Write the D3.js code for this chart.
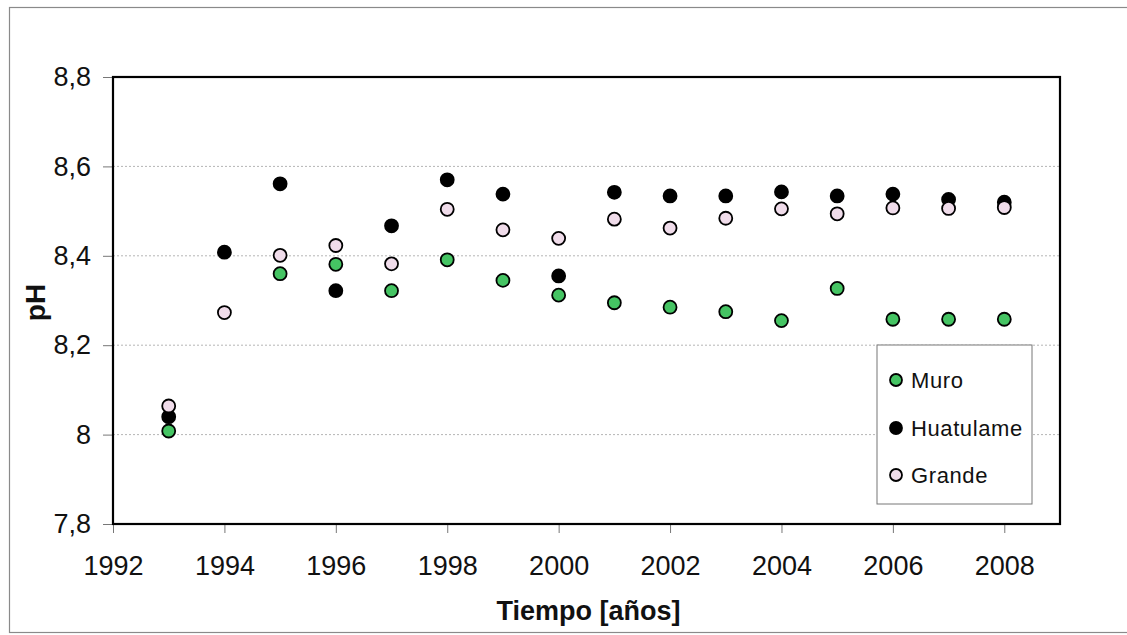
<!DOCTYPE html>
<html>
<head>
<meta charset="utf-8">
<script src="https://cdn.jsdelivr.net/npm/d3@7"></script>
<style>
  html, body { margin: 0; padding: 0; background: #fff; }
  svg { display: block; }
  text { font-family: "Liberation Sans", Arial, sans-serif; fill: #111; }
</style>
</head>
<body>
<svg id="chart" width="1127" height="635"></svg>
<script>
const years = [1993, 1994, 1995, 1996, 1997, 1998, 1999, 2000, 2001, 2002, 2003, 2004, 2005, 2006, 2007, 2008];
const muro = [8.008, null, 8.360, 8.381, 8.322, 8.391, 8.345, 8.312, 8.295, 8.285, 8.275, 8.255, 8.327, 8.258, 8.258, 8.258];
const huatulame = [8.040, 8.408, 8.561, 8.322, 8.467, 8.570, 8.538, 8.355, 8.542, 8.534, 8.534, 8.543, 8.534, 8.538, 8.526, 8.520];
const grande = [8.064, 8.273, 8.401, 8.423, 8.382, 8.504, 8.458, 8.439, 8.482, 8.462, 8.484, 8.505, 8.494, 8.507, 8.506, 8.508];
const xTicks = [1992, 1994, 1996, 1998, 2000, 2002, 2004, 2006, 2008];
const yTicks = [7.8, 8.0, 8.2, 8.4, 8.6, 8.8];
const seriesNames = ["Muro", "Huatulame", "Grande"];
const seriesColors = {"Muro": "#45c463", "Huatulame": "#000000", "Grande": "#f0dcea"};

const svg = d3.select("#chart");
const L = 113, R = 1060, T = 77, B = 524;
const x = d3.scaleLinear().domain([1992, 2009]).range([L, R]);
const y = d3.scaleLinear().domain([7.8, 8.8]).range([B, T]);
const fmt = d => d3.format(".1f")(d).replace(".", ",").replace(/,0$/, "");

// outer frame
svg.append("rect").attr("x", 9.5).attr("y", 7.5).attr("width", 1130).attr("height", 625)
  .attr("fill", "none").attr("stroke", "#8a8a8a").attr("stroke-width", 1.2);

// gridlines
svg.append("g").selectAll("line").data(yTicks.filter(t => t > 7.8 && t < 8.8)).join("line")
  .attr("x1", L).attr("x2", R).attr("y1", d => y(d)).attr("y2", d => y(d))
  .attr("stroke", "#b5b5b5").attr("stroke-width", 1).attr("stroke-dasharray", "2,2");

// y axis
const yAxis = svg.append("g").attr("transform", `translate(${L},0)`)
  .call(d3.axisLeft(y).tickValues(yTicks).tickFormat(fmt).tickSize(10).tickPadding(12));
yAxis.select(".domain").remove();
yAxis.selectAll(".tick line").attr("stroke", "#777");
yAxis.selectAll(".tick text").attr("font-size", 27).attr("fill", "#111")
  .attr("font-family", "Liberation Sans, Arial, sans-serif");

// x axis
const xAxis = svg.append("g").attr("transform", `translate(0,${B})`)
  .call(d3.axisBottom(x).tickValues(xTicks).tickFormat(d3.format("d")).tickSize(9).tickPadding(23));
xAxis.select(".domain").remove();
xAxis.selectAll(".tick line").attr("stroke", "#777");
xAxis.selectAll(".tick text").attr("font-size", 27).attr("fill", "#111")
  .attr("font-family", "Liberation Sans, Arial, sans-serif");

// plot border
svg.append("rect").attr("x", L).attr("y", T).attr("width", R - L).attr("height", B - T)
  .attr("fill", "none").attr("stroke", "#000").attr("stroke-width", 2.2);

// series
const data = {"Muro": muro, "Huatulame": huatulame, "Grande": grande};
["Huatulame", "Muro", "Grande"].forEach(name => {
  const pts = years.map((yr, i) => ({yr, v: data[name][i]})).filter(d => d.v != null);
  svg.append("g").selectAll("circle").data(pts).join("circle")
    .attr("cx", d => x(d.yr)).attr("cy", d => y(d.v)).attr("r", 6.5)
    .attr("fill", seriesColors[name]).attr("stroke", "#000").attr("stroke-width", 1.8);
});

// axis titles
svg.append("text").attr("x", (L + R) / 2 + 2).attr("y", 620).attr("text-anchor", "middle")
  .attr("font-size", 27).attr("font-weight", "bold").text("Tiempo [años]");
svg.append("text").attr("transform", `translate(45,${(T + B) / 2 + 2}) rotate(-90)`)
  .attr("text-anchor", "middle").attr("font-size", 28).attr("font-weight", "bold").text("pH");

// legend
const lg = svg.append("g");
lg.append("rect").attr("x", 877).attr("y", 345).attr("width", 155).attr("height", 159)
  .attr("fill", "#fff").attr("stroke", "#777").attr("stroke-width", 1);
const ly = [380, 428, 475];
seriesNames.forEach((name, i) => {
  lg.append("circle").attr("cx", 896).attr("cy", ly[i]).attr("r", 6)
    .attr("fill", seriesColors[name]).attr("stroke", "#000").attr("stroke-width", 1.8);
  lg.append("text").attr("x", 911).attr("y", ly[i]).attr("dy", "0.36em")
    .attr("font-size", 22).attr("letter-spacing", 0.6).text(name);
});
</script>
</body>
</html>
